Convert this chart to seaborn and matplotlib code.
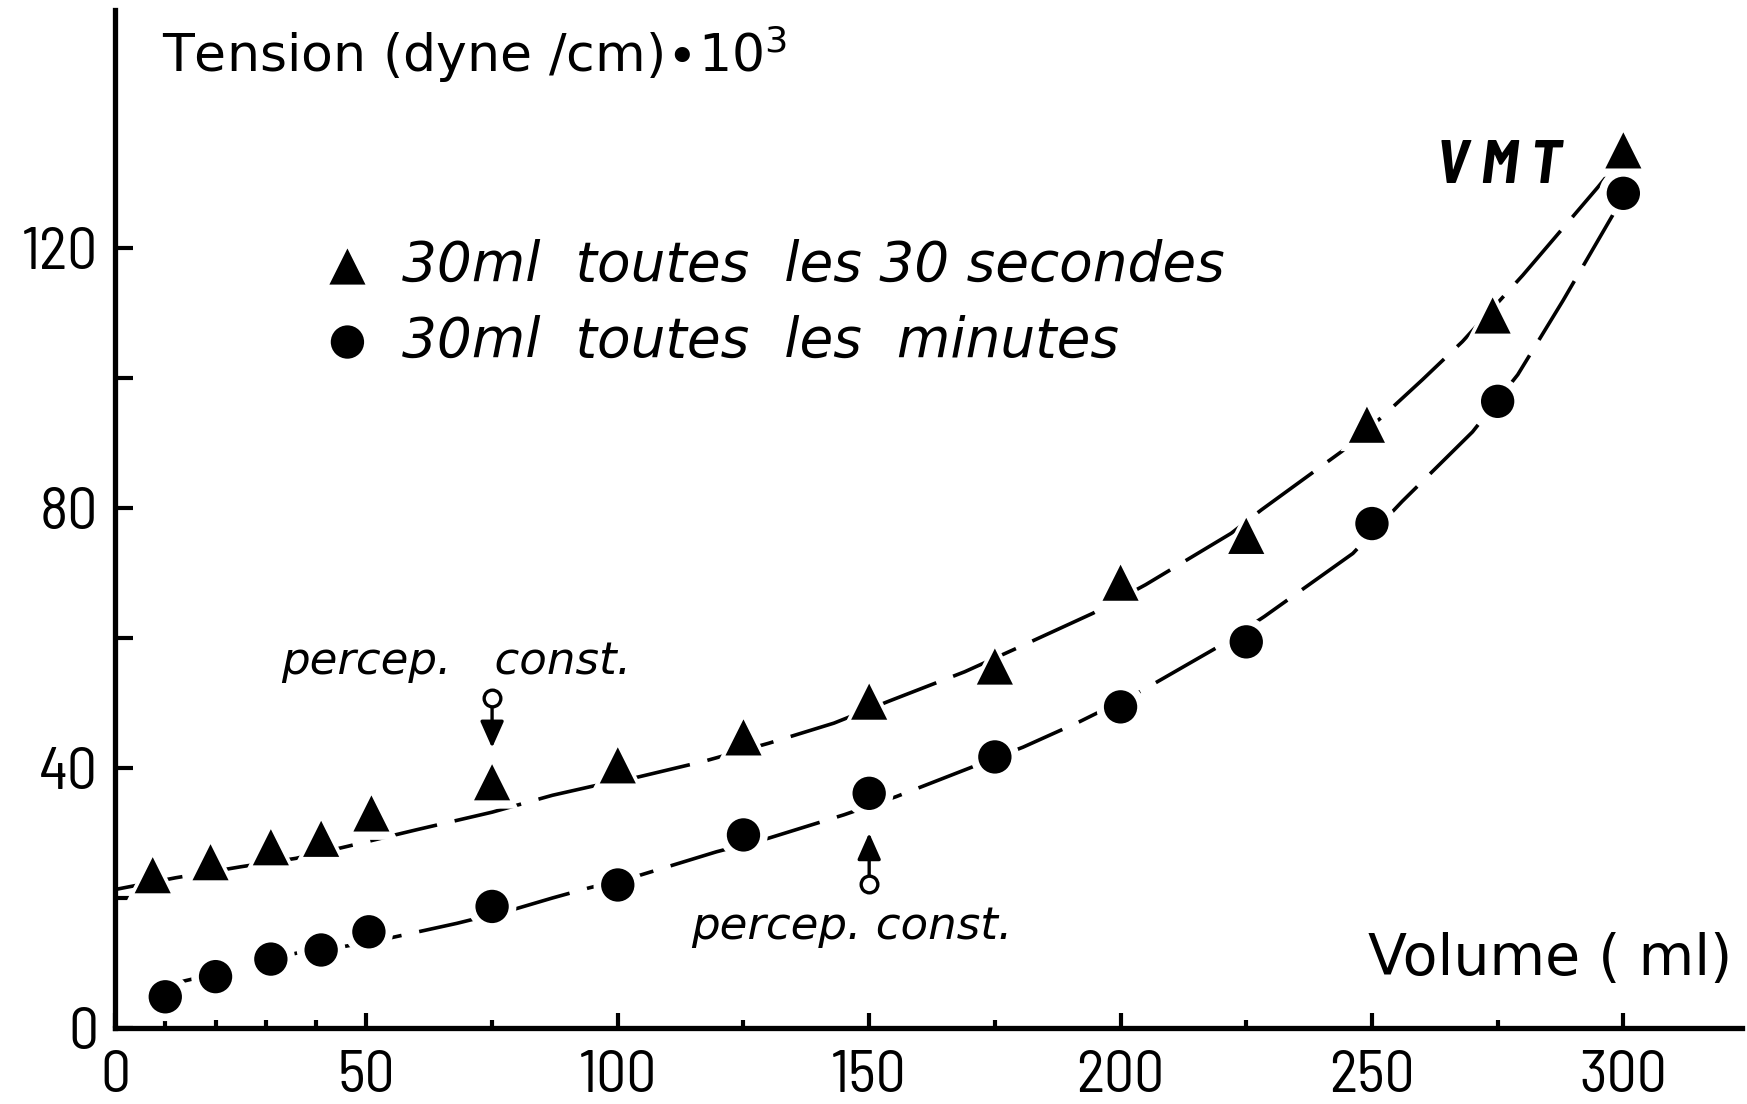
import matplotlib
matplotlib.use("Agg")
import matplotlib.pyplot as plt
import seaborn as sns
from matplotlib import font_manager

# ---------------- data ----------------
tri_x = [7.5, 19, 31, 41, 51, 75, 100, 125, 150, 175, 200, 225, 249, 274, 300]
tri_y = [23.5, 25.5, 27.8, 29.1, 33.0, 37.8, 40.4, 44.7, 50.2, 55.6, 68.5, 75.7, 92.8, 109.6, 135.0]
circ_x = [10, 20, 31, 41, 50.5, 75, 100, 125, 150, 175, 200, 225, 250, 275, 300]
circ_y = [4.8, 7.9, 10.6, 12.0, 14.8, 18.7, 22.0, 29.7, 36.1, 41.7, 49.4, 59.4, 77.6, 96.4, 128.4]

# hand-drawn fitted curves, read along their path
tri_fit_x = [0, 12, 25, 36, 46, 60, 75, 87, 95, 104, 117, 130, 143, 154, 169, 179,
             194.5, 205, 222, 228, 244, 252, 260, 268, 280, 295, 299]
tri_fit_y = [21.3, 23.1, 24.8, 26.1, 27.9, 30.5, 33.2, 35.8, 37.2, 38.6, 41.0, 43.8, 46.9,
             50.3, 54.8, 58.3, 63.8, 68.2, 76.1, 79.7, 88.7, 94.0, 99.7, 105.6, 115.8, 129.4, 133.2]
circ_fit_x = [10, 12.5, 24.5, 28, 36, 46, 55, 68, 80, 87, 94, 104.4, 119.6, 130, 145, 155.4,
              169, 180.6, 191.8, 203.8, 220, 228.6, 246.2, 256, 270, 279, 288, 298]
circ_fit_y = [6.4, 7.0, 9.2, 9.8, 11.5, 12.6, 13.9, 16.1, 18.4, 20.0, 21.5, 23.5, 27.1, 29.2,
              32.8, 35.6, 39.7, 43.2, 47.1, 51.7, 58.9, 63.3, 73.0, 81.0, 91.7, 100.5, 111.9, 125.2]

series_labels = ["30ml  toutes  les 30 secondes", "30ml  toutes  les  minutes"]

# "percep. const." markers: (x, circle y, arrow tail y, arrow tip y)
percep_x = [75, 150]
percep_circle_y = [50.8, 22.1]
percep_tail_y = [49.4, 23.5]
percep_tip_y = [43.1, 30.0]

x_major = [0, 50, 100, 150, 200, 250, 300]
x_minor = [10, 20, 30, 40, 75, 125, 175, 225, 275]
y_major = [0, 40, 80, 120]
y_minor = [20, 60, 100]

# ---------------- style ----------------
W, H, DPI = 1747, 1104, 100
sns.set_theme(style="ticks")
names = {f.name for f in font_manager.fontManager.ttflist}
NARROW = "Barlow Semi Condensed" if "Barlow Semi Condensed" in names else "DejaVu Sans"
plt.rcParams["font.family"] = ["DejaVu Sans"]
plt.rcParams["mathtext.fontset"] = "dejavusans"
for k in ("text.color", "axes.labelcolor", "xtick.color", "ytick.color", "axes.edgecolor"):
    plt.rcParams[k] = "black"

fig = plt.figure(figsize=(W / DPI, H / DPI), dpi=DPI, facecolor="white")
ax = fig.add_axes([115 / W, 76 / H, (1742 - 115) / W, (1028 - 10) / H])
ax.set_facecolor("white")

LW = 2.6
sns.lineplot(x=tri_fit_x, y=tri_fit_y, ax=ax, color="black", linewidth=LW,
             linestyle=(0, (19, 5)), sort=False, estimator=None, zorder=2)
sns.lineplot(x=circ_fit_x, y=circ_fit_y, ax=ax, color="black", linewidth=LW,
             linestyle=(0, (19, 5)), sort=False, estimator=None, zorder=2)

# white halos (gaps of the line around the markers)
sns.scatterplot(x=tri_x, y=tri_y, ax=ax, marker="^", s=38 ** 2, color="white",
                edgecolor="none", linewidth=0, zorder=3)
sns.scatterplot(x=circ_x, y=circ_y, ax=ax, marker="o", s=35 ** 2, color="white",
                edgecolor="none", linewidth=0, zorder=3)
sns.scatterplot(x=tri_x, y=tri_y, ax=ax, marker="^", s=26 ** 2, color="black",
                edgecolor="none", linewidth=0, zorder=4, label=series_labels[0])
sns.scatterplot(x=circ_x, y=circ_y, ax=ax, marker="o", s=24 ** 2, color="black",
                edgecolor="none", linewidth=0, zorder=4, label=series_labels[1])

# percep. const. arrows
for px, ty, tip in zip(percep_x, percep_tail_y, percep_tip_y):
    ax.annotate("", xy=(px, tip), xytext=(px, ty),
                arrowprops=dict(arrowstyle="-|>,head_length=0.9,head_width=0.4",
                                color="black", lw=2.4, shrinkA=0, shrinkB=0,
                                mutation_scale=18))
sns.scatterplot(x=percep_x, y=percep_circle_y, ax=ax, marker="o", s=12 ** 2,
                facecolor="white", edgecolor="black", linewidth=2.4, zorder=5)

ax.set_xlim(0, 323.6)
ax.set_ylim(0, 156.6)
ax.set_xticks(x_major)
ax.set_xticks(x_minor, minor=True)
ax.set_yticks(y_major)
ax.set_yticks(y_minor, minor=True)
ax.tick_params(axis="both", which="both", direction="in", color="black", width=3.0)
ax.tick_params(axis="x", which="major", length=11, labelsize=43, pad=16)
ax.tick_params(axis="x", which="minor", length=6)
ax.tick_params(axis="y", which="both", length=13, labelsize=43, pad=12)
for lab in ax.get_xticklabels() + ax.get_yticklabels():
    lab.set_family([NARROW, "DejaVu Sans"])
ax.set_xlabel("")
ax.set_ylabel("")
sns.despine(ax=ax)
for sp in ("left", "bottom"):
    ax.spines[sp].set_linewidth(3.8)
    ax.spines[sp].set_color("black")

ax.text(9.3, 147.1, r"Tension (dyne /cm)$\bullet$10$^{3}$", fontsize=37.5,
        ha="left", va="baseline", color="black")
ax.text(321.7, 8.2, "Volume ( ml)", fontsize=41, ha="right", va="baseline", color="black")
ax.text(33.0, 54.5, "percep.   const.", fontsize=32.5, style="italic", ha="left",
        va="baseline", color="black")
ax.text(114.5, 13.7, "percep. const.", fontsize=32.5, style="italic", ha="left",
        va="baseline", color="black")
ax.text(262.7, 130.0, "V M T", fontsize=44, style="italic", weight="bold",
        family=[NARROW, "DejaVu Sans"], ha="left", va="baseline", color="black")

leg = ax.legend(loc="center left", bbox_to_anchor=(0.126, 0.712), frameon=False,
                prop=dict(family="DejaVu Sans", size=39.5, style="italic"),
                handlelength=1.0, handletextpad=0.5,
                labelspacing=0.41, borderpad=0, borderaxespad=0, markerscale=1.0)

fig.savefig("out.png", dpi=DPI, facecolor="white")
